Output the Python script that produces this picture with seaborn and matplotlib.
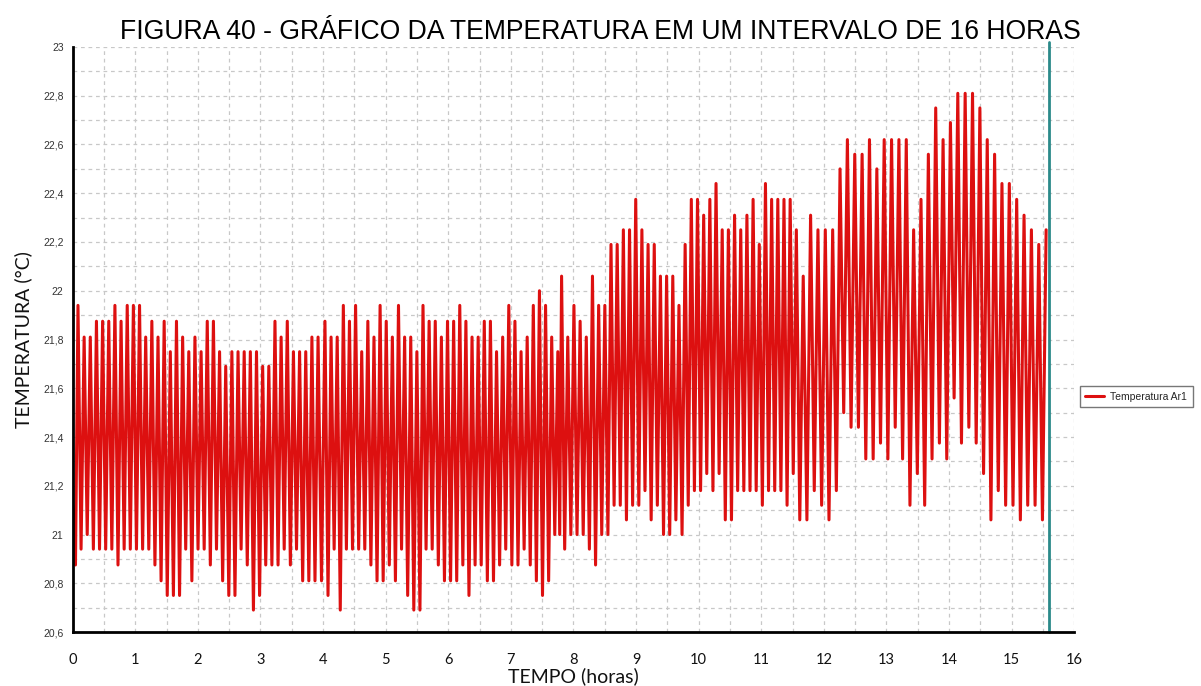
import numpy as np
import pandas as pd
import matplotlib
matplotlib.use("Agg")
import matplotlib.pyplot as plt
import seaborn as sns

# picos e vales de cada ciclo (°C)
picos_0_4h = [21.94, 21.81, 21.81, 21.875, 21.875, 21.875, 21.94, 21.875, 21.94, 21.94,
              21.94, 21.81, 21.875, 21.81, 21.875, 21.75, 21.875, 21.81, 21.75, 21.81,
              21.75, 21.875, 21.875, 21.75, 21.69, 21.75, 21.75, 21.75, 21.75, 21.75,
              21.69, 21.69, 21.875, 21.81, 21.875, 21.75, 21.75, 21.75, 21.81, 21.81]
vales_0_4h = [20.875, 20.94, 21.0, 20.94, 20.94, 20.94, 20.94, 20.875, 20.94, 20.94,
              20.94, 20.94, 20.94, 20.875, 20.81, 20.75, 20.75, 20.75, 20.94, 20.81,
              20.94, 20.94, 20.875, 20.94, 20.81, 20.75, 20.75, 20.94, 20.875, 20.69,
              20.75, 20.875, 20.875, 20.875, 20.94, 20.875, 20.94, 20.81, 20.81, 20.81]

picos_4_8h = [21.875, 21.81, 21.81, 21.94, 21.875, 21.94, 21.75, 21.875, 21.81, 21.94,
              21.875, 21.81, 21.94, 21.81, 21.81, 21.75, 21.94, 21.875, 21.875, 21.81,
              21.875, 21.875, 21.94, 21.875, 21.81, 21.81, 21.875, 21.875, 21.75, 21.81,
              21.94, 21.875, 21.75, 21.81, 21.94, 22.0, 21.94, 21.81, 21.75]
vales_4_8h = [20.81, 20.75, 20.94, 20.69, 20.94, 20.94, 20.94, 20.94, 20.875, 20.81,
              20.81, 20.875, 20.81, 20.94, 20.75, 20.69, 20.69, 20.94, 20.94, 20.875,
              20.81, 20.81, 20.81, 20.875, 20.75, 20.875, 20.875, 20.81, 20.81, 20.875,
              20.94, 20.875, 20.875, 20.94, 20.875, 20.81, 20.75, 20.81, 21.0]

picos_8_12h = [22.06, 21.81, 21.94, 21.875, 21.81, 22.06, 21.94, 21.94, 22.19, 22.19,
               22.25, 22.25, 22.375, 22.25, 22.19, 22.19, 22.06, 22.06, 22.06, 21.94,
               22.19, 22.375, 22.375, 22.31, 22.375, 22.44, 22.25, 22.25, 22.31, 22.25,
               22.31, 22.375, 22.19, 22.44, 22.375, 22.375, 22.375, 22.375, 22.25]
vales_8_12h = [21.0, 20.94, 21.0, 21.0, 21.0, 20.94, 20.875, 21.0, 21.0, 21.12,
               21.12, 21.06, 21.12, 21.12, 21.18, 21.06, 21.12, 21.0, 21.0, 21.06,
               21.0, 21.12, 21.18, 21.18, 21.25, 21.18, 21.25, 21.06, 21.06, 21.18,
               21.18, 21.18, 21.18, 21.12, 21.18, 21.18, 21.18, 21.12, 21.25]

picos_12_16h = [22.06, 22.31, 22.25, 22.25, 22.25, 22.5, 22.62, 22.56, 22.56, 22.62,
                22.5, 22.62, 22.62, 22.62, 22.62, 22.25, 22.375, 22.56, 22.75, 22.62,
                22.69, 22.81, 22.81, 22.81, 22.75, 22.62, 22.56, 22.44, 22.44, 22.375,
                22.31, 22.25, 22.19, 22.25]
vales_12_16h = [21.06, 21.06, 21.18, 21.12, 21.06, 21.18, 21.5, 21.44, 21.44, 21.31,
                21.31, 21.375, 21.31, 21.44, 21.31, 21.12, 21.25, 21.12, 21.31, 21.375,
                21.31, 21.56, 21.375, 21.44, 21.375, 21.25, 21.06, 21.18, 21.12, 21.12,
                21.06, 21.12, 21.12, 21.06]

# horario (h) do primeiro e do ultimo pico de cada trecho
inicio_trechos = [0.085, 4.03, 7.81, 11.67]
fim_trechos = [3.92, 7.75, 11.56, 15.55]
temp_inicial = 21.12
cursor_horas = 15.6

picos = [picos_0_4h, picos_4_8h, picos_8_12h, picos_12_16h]
vales = [vales_0_4h, vales_4_8h, vales_8_12h, vales_12_16h]

t_picos = np.concatenate([np.linspace(a, b, len(p))
                          for a, b, p in zip(inicio_trechos, fim_trechos, picos)])
v_picos = np.concatenate(picos)
v_vales = np.concatenate(vales)
t_vales = np.r_[t_picos[0] - 0.04, t_picos[1:] - np.diff(t_picos) / 2]

tempo = np.r_[0.0, np.column_stack([t_vales, t_picos]).ravel()]
temperatura = np.r_[temp_inicial, np.column_stack([v_vales, v_picos]).ravel()]
df = pd.DataFrame({"tempo": tempo, "temperatura": temperatura})

# grafico
sns.set_style("white")
plt.rcParams["font.family"] = ["Liberation Sans", "DejaVu Sans"]

fig = plt.figure(figsize=(12.01, 6.86), dpi=100)
ax = fig.add_axes([0.0605, 0.0787, 0.834, 0.8528])

sns.lineplot(data=df, x="tempo", y="temperatura", color="#dd1010", lw=2.2,
             estimator=None, sort=False, label="Temperatura Ar1", ax=ax)
ax.axvline(cursor_horas, color="#2b8a8a", lw=2, ymax=1.008, clip_on=False)

ax.set_xlim(0, 16)
ax.set_ylim(20.6, 23)
ax.set_xticks(range(17))
ax.set_xticks(np.arange(0, 16.01, 0.5), minor=True)
yt = np.round(np.arange(20.6, 23.01, 0.2), 1)
ax.set_yticks(yt)
ax.set_yticks(np.round(np.arange(20.6, 23.01, 0.1), 1), minor=True)
ylab = []
for v in yt:
    s = f"{v:.1f}".replace(".", ",")
    if s.endswith(",0"):
        s = s[:-2]
    ylab.append(s)
ax.set_yticklabels(ylab, fontsize=7.5, color="#333333")
ax.set_xticklabels([str(i) for i in range(17)], fontsize=10.5, family="Lato", color="#111111")

ax.grid(which="both", ls=(0, (3, 3)), color="#c8c8c8", lw=0.9)
ax.tick_params(which="major", direction="out", length=4, width=1.5, color="black")
ax.tick_params(axis="y", pad=2.5)
ax.tick_params(axis="x", pad=11)
ax.tick_params(which="minor", length=0)
for s in ["top", "right"]:
    ax.spines[s].set_visible(False)
for s in ["left", "bottom"]:
    ax.spines[s].set_color("black")
    ax.spines[s].set_linewidth(2)

ax.set_xlabel("TEMPO (horas)", fontsize=14, family="Lato", va="center", color="#111111")
ax.xaxis.set_label_coords(0.5, -0.075)
ax.set_ylabel("TEMPERATURA (°C)", fontsize=14, family="Lato", va="center", color="#111111")
ax.yaxis.set_label_coords(-0.049, 0.5)

fig.text(0.5, 1 - 32 / 686, "FIGURA 40 - GRÁFICO DA TEMPERATURA EM UM INTERVALO DE 16 HORAS",
         ha="center", va="center", fontsize=19.2, color="black")

leg = ax.legend(loc="center left", bbox_to_anchor=(0.899, 0.422), bbox_transform=fig.transFigure,
                fontsize=7.5, frameon=True, fancybox=False, edgecolor="#555555",
                handlelength=1.8, handletextpad=0.6, borderpad=0.55, borderaxespad=0)
leg.get_frame().set_linewidth(1)

fig.savefig("out.png", dpi=100)
